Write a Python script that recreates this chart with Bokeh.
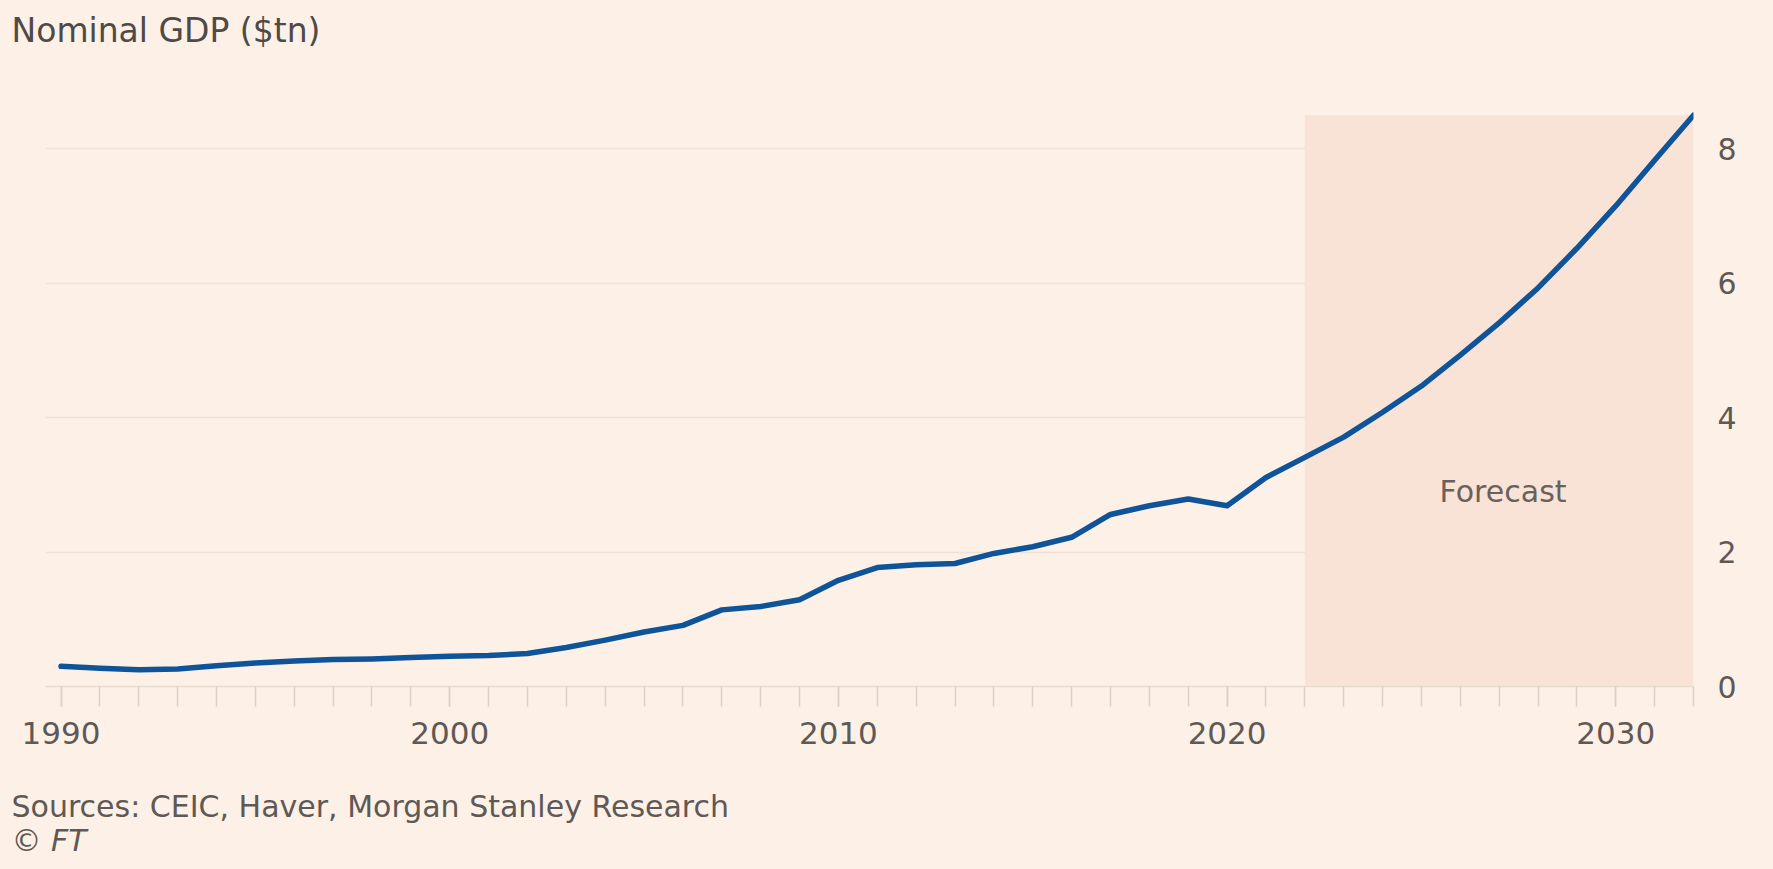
from bokeh.plotting import figure
from bokeh.models import Range1d, FixedTicker, Label, BoxAnnotation, Title
from bokeh.embed import file_html
from bokeh.resources import INLINE

# ---- data ----
years = list(range(1990, 2033))
gdp = [0.30, 0.27, 0.25, 0.26, 0.31, 0.35, 0.38, 0.40, 0.41, 0.43,
       0.45, 0.46, 0.49, 0.58, 0.69, 0.81, 0.91, 1.14, 1.19, 1.29,
       1.58, 1.77, 1.81, 1.83, 1.98, 2.08, 2.22, 2.56, 2.69, 2.79,
       2.69, 3.11, 3.41, 3.71, 4.08, 4.47, 4.93, 5.41, 5.93, 6.52,
       7.15, 7.83, 8.50]
forecast_start = 2022
forecast_end = 2032
forecast_top = 8.5
x_ticks = [1990, 2000, 2010, 2020, 2030]
y_ticks = [0, 2, 4, 6, 8]
title_text = "Nominal GDP ($tn)"
source_text = "Sources: CEIC, Haver, Morgan Stanley Research"
credit_text = "\u00a9 FT"
forecast_text = "Forecast"

BG = "#fdf1e7"
BAND = "#f9e3d7"
TEXT = "#5f5955"
FONT = "DejaVu Sans"

X0, X1 = 1989.6, 2032.0
Y0, Y1 = 0, 8.6
FRAME_L, FRAME_R, FRAME_T, FRAME_B = 45, 1693, 108, 686

p = figure(width=1773, height=869, output_backend="svg", toolbar_location=None,
           x_range=Range1d(X0, X1), y_range=Range1d(Y0, Y1),
           y_axis_location="right",
           min_border_left=FRAME_L, min_border_right=1773 - FRAME_R,
           min_border_top=FRAME_T, min_border_bottom=869 - FRAME_B)
p.background_fill_color = None
p.border_fill_color = None
p.styles = {"background-color": BG}
p.outline_line_color = None

# grid
p.xgrid.visible = False
p.ygrid.ticker = FixedTicker(ticks=[2, 4, 6, 8])
p.ygrid.grid_line_color = "#efe1d5"
p.ygrid.grid_line_width = 1.5

# forecast band (under the line)
band = BoxAnnotation(left=forecast_start, right=forecast_end, bottom=0, top=forecast_top,
                     fill_color=BAND, fill_alpha=1.0, line_color=None, level="underlay")
p.add_layout(band)

# line
p.line(years, gdp, line_color="#0f5499", line_width=5.5, line_join="round", line_cap="round")

# x axis
xa = p.xaxis[0]
xa.ticker = FixedTicker(ticks=x_ticks, minor_ticks=years)
xa.axis_line_color = "#e8dbd0"
xa.axis_line_width = 1.5
xa.major_tick_line_color = "#ddd1c7"
xa.minor_tick_line_color = "#ddd1c7"
xa.major_tick_line_width = 1.5
xa.minor_tick_line_width = 1.5
xa.major_tick_out = 20
xa.major_tick_in = 0
xa.minor_tick_out = 20
xa.minor_tick_in = 0
xa.major_label_standoff = 15
xa.major_label_text_font = FONT
xa.major_label_text_font_size = "31px"
xa.major_label_text_color = TEXT

# y axis (right)
ya = p.yaxis[0]
ya.ticker = FixedTicker(ticks=y_ticks)
ya.axis_line_color = None
ya.major_tick_line_color = None
ya.minor_tick_line_color = None
ya.major_tick_out = 0
ya.major_tick_in = 0
ya.major_label_standoff = 24
ya.major_label_text_font = FONT
ya.major_label_text_font_size = "30px"
ya.major_label_text_color = TEXT

# titles / notes (spacer titles only create vertical gaps)
p.add_layout(Title(text=" ", text_font_size="1px", standoff=56), "above")
p.add_layout(Title(text=title_text, align="left", offset=-34, standoff=0,
                   text_font=FONT, text_font_size="33px", text_color="#4f4a47",
                   text_font_style="normal"), "above")
p.add_layout(Title(text=" ", text_font_size="1px", standoff=37), "below")
p.add_layout(Title(text=source_text, align="left", offset=-34, standoff=0,
                   text_font=FONT, text_font_size="30px", text_color=TEXT,
                   text_font_style="normal"), "below")
p.add_layout(Title(text=credit_text, align="left", offset=-34, standoff=-6,
                   text_font=FONT, text_font_size="30px", text_color=TEXT,
                   text_font_style="italic"), "below")

# forecast label inside the band
p.add_layout(Label(x=2027.1, y=2.90, text=forecast_text,
                   text_font=FONT, text_font_size="30px", text_color="#6a615b",
                   text_baseline="alphabetic", text_align="center"))

open("out.html", "w").write(file_html(p, INLINE))
